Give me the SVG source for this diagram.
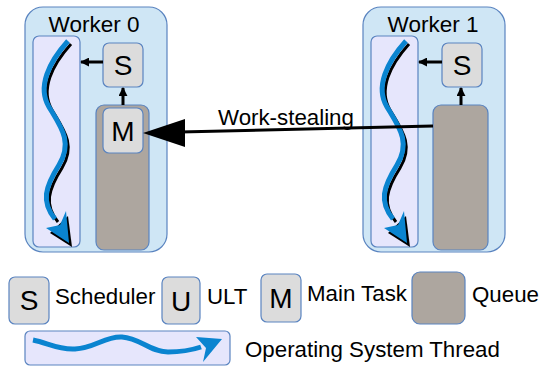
<svg xmlns="http://www.w3.org/2000/svg" width="540" height="367" viewBox="0 0 540 367">
<style>
text{font-family:"Liberation Sans",Arial,sans-serif;fill:#000}
.worker{fill:#cfe6f5;stroke:#5a84c0;stroke-width:1.2}
.lane{fill:#e6e6fc;stroke:#5a84c0;stroke-width:1.2}
.box{fill:#dcdcdc;stroke:#5a84c0;stroke-width:1.2}
.queue{fill:#ada69f;stroke:#5a84c0;stroke-width:1.2}
.title{font-size:22.5px;text-anchor:middle}
.letter{font-size:28px;text-anchor:middle}
.lbl{font-size:22.3px}
.shadow{fill:none;stroke:#000;stroke-width:3}
.thread{fill:none;stroke:#0a84d0;stroke-width:5;stroke-linecap:butt}
.conn{stroke:#000;stroke-width:3;fill:none}
</style>
<defs>
<marker id="ah" viewBox="0 0 10 10" refX="9" refY="5" markerWidth="3" markerHeight="3" orient="auto" markerUnits="strokeWidth">
<path d="M0,0 L10,5 L0,10 z" fill="#000"/>
</marker>
<g id="wthread">
<path class="shadow" d="M71,44 C52,65 40,90 52,110 C64,130 76,145 62,168 C48,190 44,205 58,222"/>
<path d="M48,231 L70,245 L66,214 Z" fill="#000" transform="translate(2,2)"/>
<path class="thread" d="M68,41 C49,62 37,87 49,107 C61,127 73,142 59,165 C45,187 41,202 55,219"/>
<path d="M46,228 L69,243 L66,211 L60,225 Z" fill="#0a84d0"/>
</g>
</defs>

<g id="worker0">
<rect class="worker" x="25" y="7" width="142" height="245" rx="18"/>
<text class="title" x="94" y="32">Worker 0</text>
<rect class="lane" x="33" y="36" width="47" height="211" rx="6"/>
<use href="#wthread"/>
<rect class="queue" x="96" y="105" width="53" height="145" rx="8"/>
<g id="w0-S"><rect class="box" x="103" y="43" width="40" height="44" rx="6"/><text class="letter" x="123" y="75">S</text></g>
<g id="w0-M"><rect class="box" x="103" y="108" width="40" height="45" rx="6"/><text class="letter" x="123" y="141">M</text></g>
</g>

<g id="worker1">
<rect class="worker" x="363" y="7" width="142" height="245" rx="18"/>
<text class="title" x="433" y="32">Worker 1</text>
<rect class="lane" x="371" y="36" width="47" height="211" rx="6"/>
<use href="#wthread" transform="translate(338,0)"/>
<rect class="queue" x="433" y="105" width="55" height="145" rx="8"/>
<g id="w1-S"><rect class="box" x="442" y="43" width="40" height="44" rx="6"/><text class="letter" x="462" y="75">S</text></g>
</g>

<g id="connectors">
<line class="conn" x1="103" y1="62" x2="81" y2="62" marker-end="url(#ah)"/>
<line class="conn" x1="123" y1="105" x2="123" y2="88" marker-end="url(#ah)"/>
<line class="conn" x1="442" y1="62" x2="419" y2="62" marker-end="url(#ah)"/>
<line class="conn" x1="461" y1="105" x2="461" y2="88" marker-end="url(#ah)"/>
<line x1="433" y1="126" x2="180" y2="132" stroke="#000" stroke-width="3"/>
<path d="M143,133 L185,119 L185,147 Z" fill="#000"/>
<text class="lbl" x="218" y="125">Work-stealing</text>
</g>

<g id="legend">
<g id="leg-S"><rect class="box" x="9" y="277" width="40" height="47" rx="6"/><text class="letter" x="29" y="310">S</text><text class="lbl" x="55" y="304">Scheduler</text></g>
<g id="leg-U"><rect class="box" x="162" y="277" width="38" height="47" rx="6"/><text class="letter" x="181" y="311">U</text><text class="lbl" x="207" y="304">ULT</text></g>
<g id="leg-M"><rect class="box" x="261" y="274" width="40" height="48" rx="6"/><text class="letter" x="281" y="308">M</text><text class="lbl" x="307" y="301">Main Task</text></g>
<g id="leg-Q"><rect class="queue" x="412" y="272" width="53" height="52" rx="8"/><text class="lbl" x="472" y="302">Queue</text></g>
<g id="leg-T">
<rect class="lane" x="25" y="331" width="205" height="34" rx="5"/>
<path class="thread" d="M33,340 C48,343 58,350 75,349 C95,348 105,336 122,337 C140,338 150,352 168,352 C182,352 192,350 201,347"/>
<path d="M196,337 L222,339 L203,362 L206,348 Z" fill="#0a84d0"/>
<text class="lbl" x="245" y="357">Operating System Thread</text>
</g>
</g>
</svg>
